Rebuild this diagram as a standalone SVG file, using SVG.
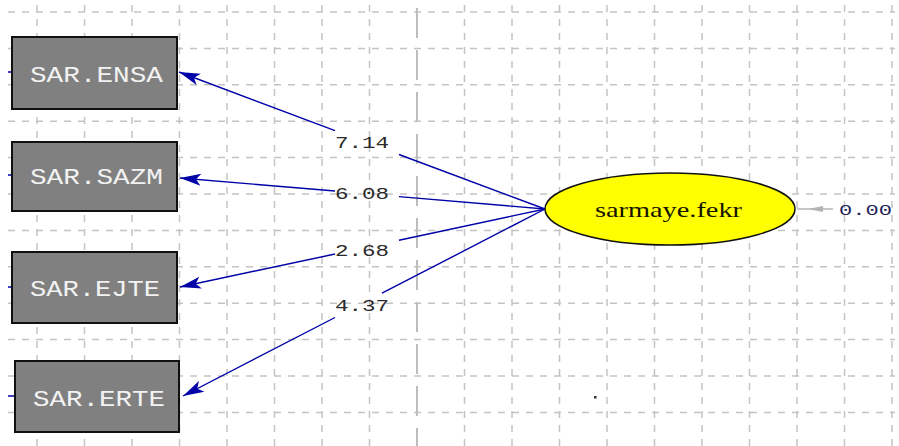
<svg xmlns="http://www.w3.org/2000/svg" width="899" height="446" viewBox="0 0 899 446">
  <style>
    .grid { stroke: #c4c4c4; stroke-width: 1.5; stroke-dasharray: 7 7; fill: none; }
    .axis { stroke: #bdbdbd; stroke-width: 2; stroke-dasharray: 30 12; fill: none; }
    .box { fill: #808080; stroke: #111111; stroke-width: 2; }
    .boxtxt { font-family: "Liberation Mono", "Courier New", monospace; font-size: 22px; fill: #f2f2f2; }
    .path { stroke: #0000a8; stroke-width: 1.4; fill: none; }
    .coef { font-family: "Liberation Mono", "Courier New", monospace; font-size: 16px; fill: #2a2a2a; }
    .stub { stroke: #0000a8; stroke-width: 1.5; }
  </style>
  <defs>
    <marker id="arrow" markerUnits="userSpaceOnUse" markerWidth="26" markerHeight="16" refX="22" refY="8" orient="auto">
      <path d="M22,8 L1,2 L6,8 L1,14 Z" fill="#0000a8"/>
    </marker>
  </defs>

  <rect width="899" height="446" fill="#ffffff"/>

  <!-- background grid -->
  <g id="grid">
    <path class="grid" d="M8,12H895 M8,48.4H895 M8,84.8H895 M8,121.2H895 M8,157.6H895 M8,194H895 M8,230.4H895 M8,266.8H895 M8,303.2H895 M8,339.6H895 M8,376H895 M8,412.4H895"/>
    <path class="grid" d="M37,5V446 M84.5,5V446 M132,5V446 M179.5,5V446 M227,5V446 M274.5,5V446 M322,5V446 M369.5,5V446 M464.5,5V446 M512,5V446 M559.5,5V446 M607,5V446 M654.5,5V446 M702,5V446 M749.5,5V446 M797,5V446 M844.5,5V446 M892,5V446"/>
    <path class="axis" d="M417,8V446"/>
  </g>

  <!-- connectors -->
  <g id="connectors">
    <line class="stub" x1="8" y1="72" x2="12" y2="72"/>
    <line class="stub" x1="8" y1="175" x2="12" y2="175"/>
    <line class="stub" x1="8" y1="287" x2="12" y2="287"/>
    <line class="stub" x1="8" y1="396" x2="15" y2="396"/>

    <path class="path" marker-end="url(#arrow)" d="M545,209 L399,154.5 M335,130.6 L179,72"/>
    <path class="path" marker-end="url(#arrow)" d="M545,209 L399,196.6 M335,191 L180,178"/>
    <path class="path" marker-end="url(#arrow)" d="M545,209 L399,240.2 M335,254 L180,287"/>
    <path class="path" marker-end="url(#arrow)" d="M545,209 L382,293.2 M335,317.5 L183,396"/>

    <line x1="797" y1="209" x2="833" y2="209" stroke="#b4b4b4" stroke-width="1.5"/>
    <path d="M808,209 L823,206 L823,212 Z" fill="#b4b4b4"/>

    <text class="coef" x="335" y="148" textLength="54" lengthAdjust="spacingAndGlyphs">7.14</text>
    <text class="coef" x="335" y="199" textLength="54" lengthAdjust="spacingAndGlyphs">6.08</text>
    <text class="coef" x="335" y="256" textLength="54" lengthAdjust="spacingAndGlyphs">2.68</text>
    <text class="coef" x="335" y="311" textLength="54" lengthAdjust="spacingAndGlyphs">4.37</text>
    <text x="839" y="215" font-family="'Liberation Mono', 'Courier New', monospace" font-size="15" fill="#22225a" textLength="53" lengthAdjust="spacingAndGlyphs">0.00</text>
  </g>

  <!-- observed variables -->
  <g id="sar-ensa">
    <rect class="box" x="12" y="37" width="165" height="72"/>
    <text class="boxtxt" x="30" y="82" textLength="133" lengthAdjust="spacingAndGlyphs">SAR.ENSA</text>
  </g>
  <g id="sar-sazm">
    <rect class="box" x="12" y="142" width="165" height="69"/>
    <text class="boxtxt" x="30" y="184" textLength="133" lengthAdjust="spacingAndGlyphs">SAR.SAZM</text>
  </g>
  <g id="sar-ejte">
    <rect class="box" x="12" y="252" width="165" height="71"/>
    <text class="boxtxt" x="30" y="296" textLength="130" lengthAdjust="spacingAndGlyphs">SAR.EJTE</text>
  </g>
  <g id="sar-erte">
    <rect class="box" x="15" y="361" width="164" height="71"/>
    <text class="boxtxt" x="33" y="406" textLength="132" lengthAdjust="spacingAndGlyphs">SAR.ERTE</text>
  </g>

  <!-- latent variable -->
  <g id="sarmaye-fekr">
    <ellipse cx="670" cy="209" rx="125" ry="36" fill="#ffff00" stroke="#111111" stroke-width="1.5"/>
    <text x="595" y="217" font-family="'Liberation Serif', 'Times New Roman', serif" font-size="21" fill="#141400" textLength="147" lengthAdjust="spacingAndGlyphs">sarmaye.fekr</text>
  </g>

  <rect x="594" y="396" width="2.5" height="2.5" fill="#333333"/>
</svg>
